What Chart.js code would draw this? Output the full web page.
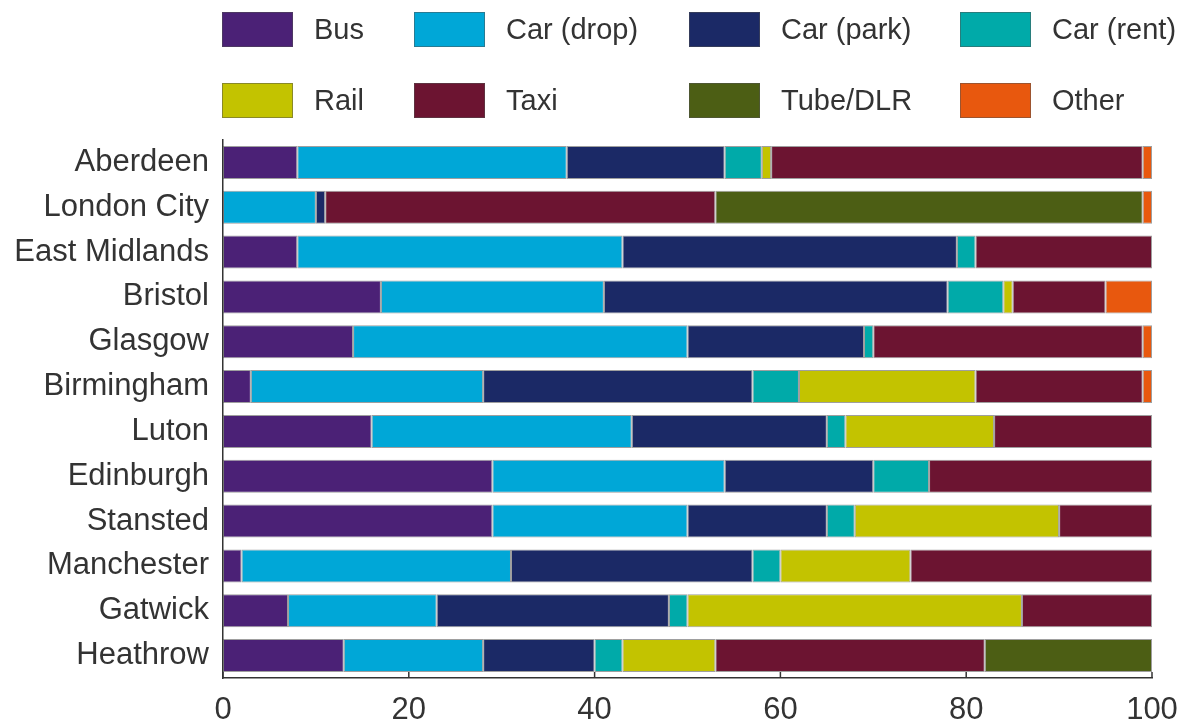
<!DOCTYPE html>
<html>
<head>
<meta charset="utf-8">
<script src="https://cdn.jsdelivr.net/npm/chart.js@4"></script>
<style>
  body { margin: 0; background: #fff; }
  #wrap { position: relative; width: 1192px; height: 724px; }
  #legend { position: absolute; left: 0; top: 0; width: 1192px; height: 130px; }
  .item { position: absolute; height: 35px; display: flex; align-items: center;
          font-family: "Liberation Sans", Arial, sans-serif; font-size: 29px; color: #333; }
  .box { width: 71px; height: 35px; margin-right: 21px; box-sizing: border-box;
         border: 1px solid rgba(80,80,80,0.5); }
</style>
</head>
<body>
<div id="wrap">
  <canvas id="chart" width="1192" height="724"></canvas>
  <div id="legend"></div>
</div>
<script>
// ====== DATA ======
const airports = ['Aberdeen', 'London City', 'East Midlands', 'Bristol', 'Glasgow', 'Birmingham',
                  'Luton', 'Edinburgh', 'Stansted', 'Manchester', 'Gatwick', 'Heathrow'];
const bus     = [8, 0, 8, 17, 14, 3, 16, 29, 29, 2, 7, 13];
const carDrop = [29, 10, 35, 24, 36, 25, 28, 25, 21, 29, 16, 15];
const carPark = [17, 1, 36, 37, 19, 29, 21, 16, 15, 26, 25, 12];
const carRent = [4, 0, 2, 6, 1, 5, 2, 6, 3, 3, 2, 3];
const rail    = [1, 0, 0, 1, 0, 19, 16, 0, 22, 14, 36, 10];
const taxi    = [40, 42, 19, 10, 29, 18, 17, 24, 10, 26, 14, 29];
const tube    = [0, 46, 0, 0, 0, 0, 0, 0, 0, 0, 0, 18];
const other   = [1, 1, 0, 5, 1, 1, 0, 0, 0, 0, 0, 0];

const seriesNames = ['Bus', 'Car (drop)', 'Car (park)', 'Car (rent)', 'Rail', 'Taxi', 'Tube/DLR', 'Other'];
const seriesData = [bus, carDrop, carPark, carRent, rail, taxi, tube, other];
const seriesColors = ['#4b2176', '#00a7d7', '#1b2966', '#00aaa9', '#c3c300', '#6c1431', '#4c5e14', '#e8580e'];
const xTicks = [0, 20, 40, 60, 80, 100];

const FONT = '"Liberation Sans", Arial, sans-serif';
const TEXT = '#333';

// legend (two rows of four, fixed columns like the original)
const legendCols = [222, 414, 689, 960];
const legendRows = [12, 83];
const legendEl = document.getElementById('legend');
seriesNames.forEach((name, i) => {
    const item = document.createElement('div');
    item.className = 'item';
    item.style.left = legendCols[i % 4] + 'px';
    item.style.top = legendRows[Math.floor(i / 4)] + 'px';
    item.innerHTML = '<div class="box" style="background:' + seriesColors[i] + '"></div><span>' + name + '</span>';
    legendEl.appendChild(item);
});

// small tick marks pointing up from the x axis
const innerTicks = {
    id: 'innerTicks',
    beforeDatasetsDraw(chart) {
        const x = chart.scales.x;
        const ctx = chart.ctx;
        ctx.save();
        ctx.strokeStyle = '#333';
        ctx.lineWidth = 1.5;
        xTicks.forEach(v => {
            const px = x.getPixelForValue(v);
            ctx.beginPath();
            ctx.moveTo(px, x.top);
            ctx.lineTo(px, x.top - 6);
            ctx.stroke();
        });
        ctx.restore();
    }
};

new Chart(document.getElementById('chart'), {
    type: 'bar',
    data: {
        labels: airports,
        datasets: seriesNames.map((name, i) => ({
            label: name,
            data: seriesData[i],
            backgroundColor: seriesColors[i],
            borderColor: 'rgba(80,80,80,0.55)',
            borderWidth: c => (c.raw ? 1 : 0),
            borderSkipped: false,
            barPercentage: 0.735,
            categoryPercentage: 1
        }))
    },
    options: {
        indexAxis: 'y',
        responsive: false,
        animation: false,
        layout: { padding: { top: 140, right: 40, left: 0, bottom: 0 } },
        plugins: {
            legend: { display: false },
            tooltip: { enabled: false }
        },
        scales: {
            x: {
                stacked: true,
                min: 0,
                max: 100,
                afterBuildTicks: s => { s.ticks = xTicks.map(v => ({ value: v })); },
                afterFit: s => { s.height = 46; },
                grid: { display: false, drawTicks: false },
                border: { display: true, color: '#333', width: 1.5 },
                ticks: { color: TEXT, font: { family: FONT, size: 31 }, padding: 14, maxRotation: 0 }
            },
            y: {
                stacked: true,
                afterFit: s => { s.width = 223; },
                grid: { display: false, drawTicks: false },
                border: { display: true, color: '#333', width: 1.5 },
                ticks: { color: TEXT, font: { family: FONT, size: 31 }, padding: 14 }
            }
        }
    },
    plugins: [innerTicks]
});
</script>
</body>
</html>
